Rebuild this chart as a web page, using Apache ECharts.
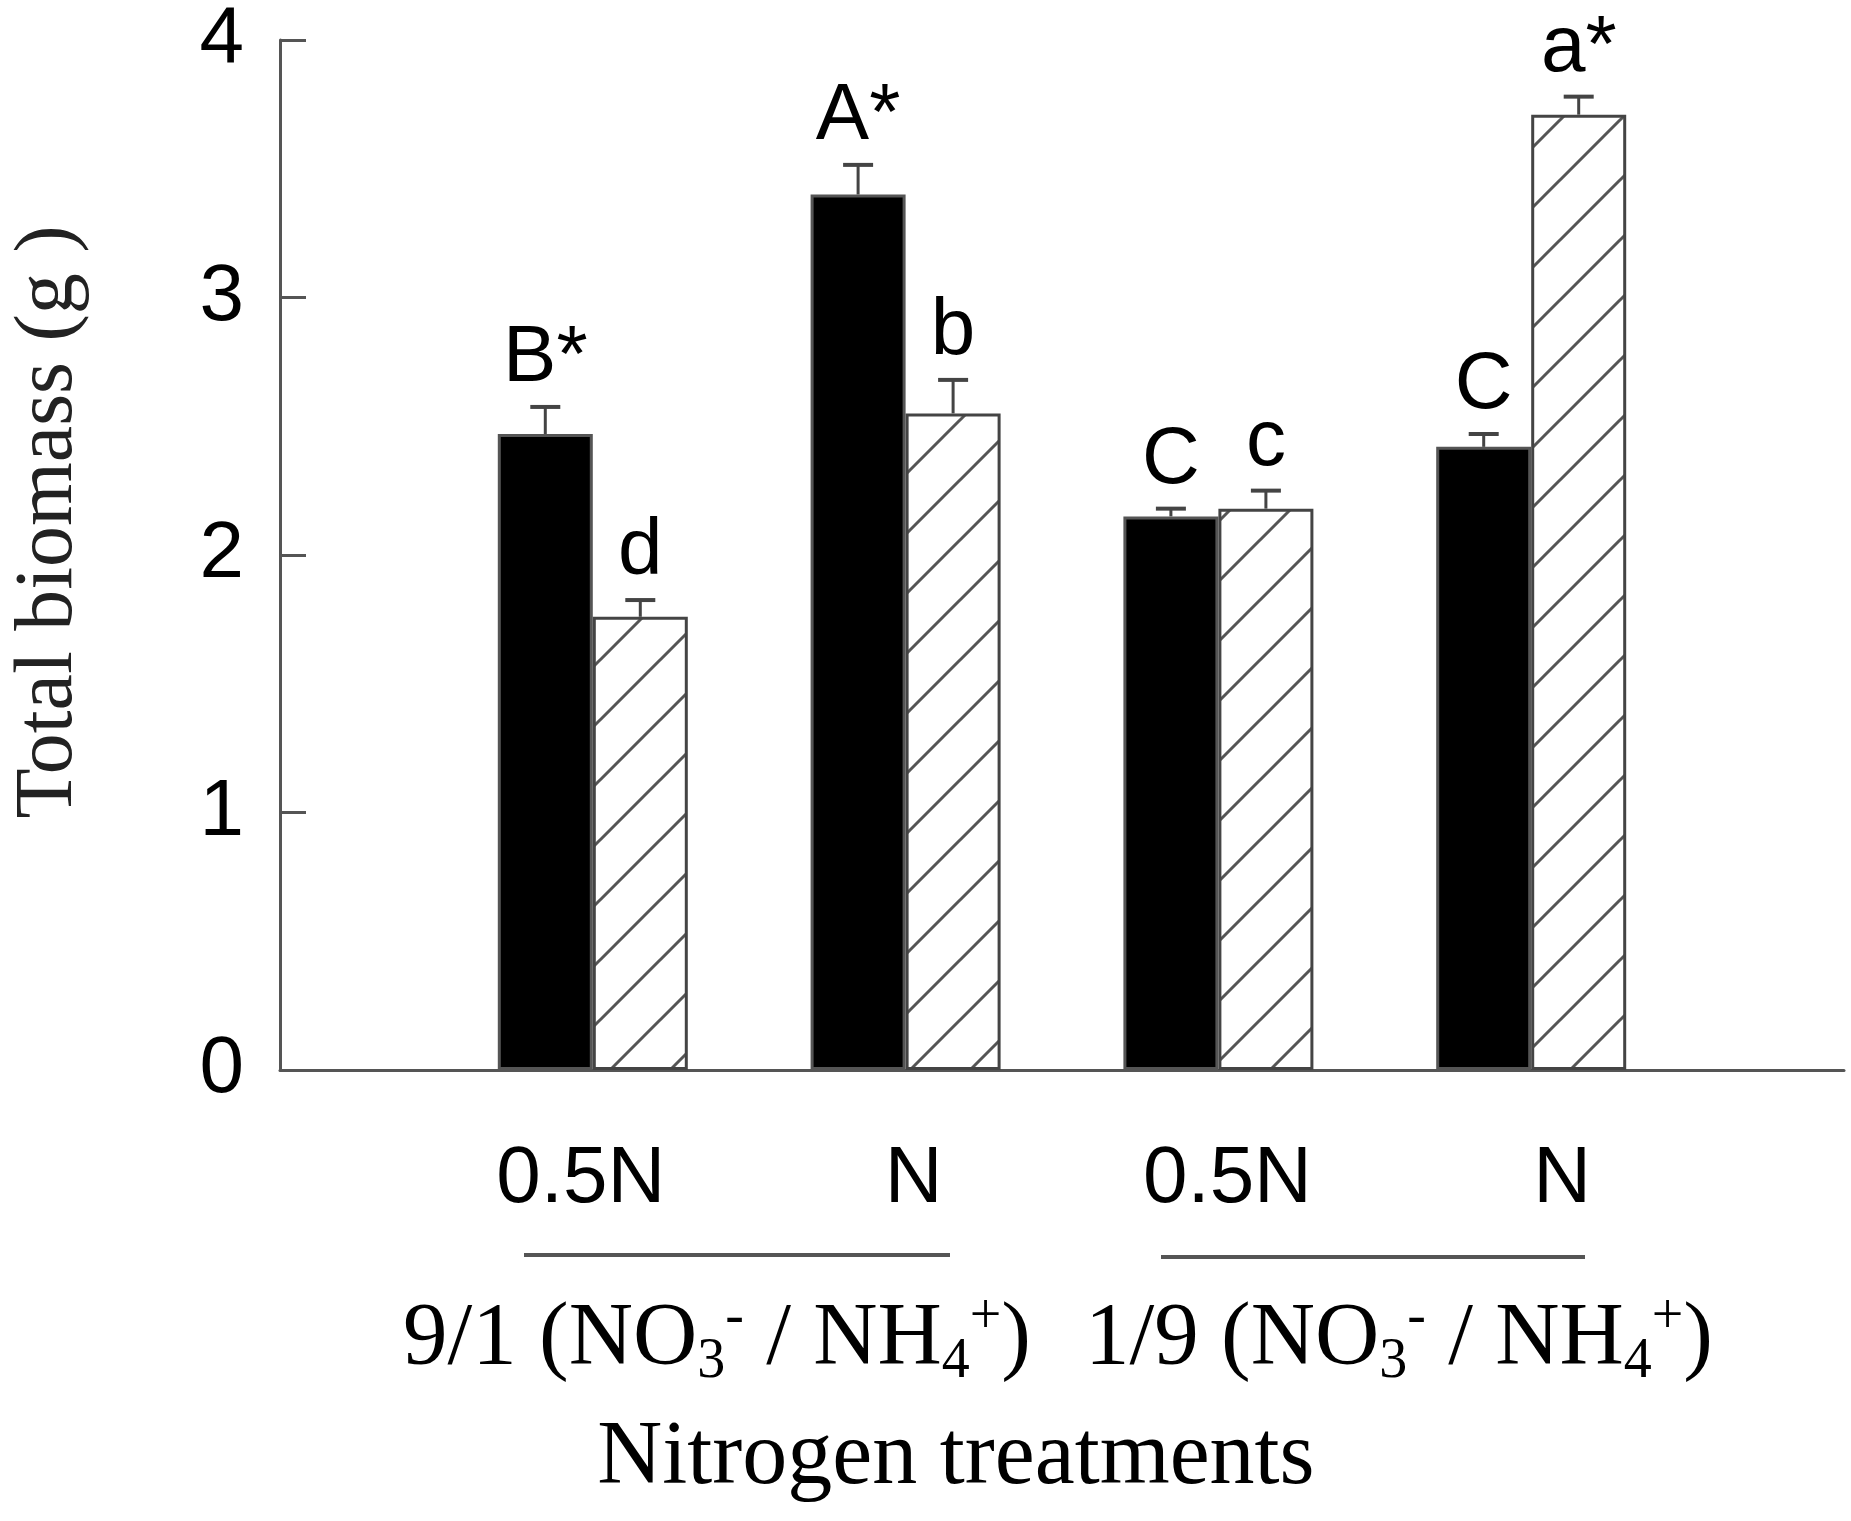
<!DOCTYPE html>
<html>
<head>
<meta charset="utf-8">
<script src="https://cdn.jsdelivr.net/npm/echarts@6/dist/echarts.min.js"></script>
<style>
html, body { margin: 0; padding: 0; background: #fff; }
#main { width: 1851px; height: 1521px; }
</style>
</head>
<body>
<div id="main"></div>
<script>
// categories on the x axis (empty ends leave half a band on each side)
var categories = ['', '0.5N', 'N', '0.5N', 'N', ''];

// solid black bars
var blackValues = [2.47, 3.40, 2.15, 2.42];
var blackErrors = [0.105, 0.115, 0.03, 0.05];
var blackLetters = ['B*', 'A*', 'C', 'C'];

// hatched bars
var hatchValues = [1.76, 2.55, 2.18, 3.71];
var hatchErrors = [0.065, 0.13, 0.07, 0.07];
var hatchLetters = ['d', 'b', 'c', 'a*'];

var groupRatios = ['9/1', '1/9'];

var sans = 'Liberation Sans, Arial, sans-serif';
var serif = 'Liberation Serif, Times New Roman, serif';
var BAR_W = 95;

var makeHatch = function () {
    var s = 60;
    var c = document.createElement('canvas');
    c.width = s; c.height = s;
    var g = c.getContext('2d');
    g.fillStyle = '#fff';
    g.fillRect(0, 0, s, s);
    g.strokeStyle = '#555';
    g.lineWidth = 3;
    g.beginPath();
    g.moveTo(0, s); g.lineTo(s, 0);
    g.moveTo(-6, 6); g.lineTo(6, -6);
    g.moveTo(s - 6, s + 6); g.lineTo(s + 6, s - 6);
    g.stroke();
    return c;
};

var barData = function (vals) {
    return vals.map(function (v, i) { return [i + 1, v]; });
};

var errData = function (vals, errs) {
    return vals.map(function (v, i) { return [i + 1, v, errs[i]]; });
};

var errRender = function (offset, letters) {
    return function (params, api) {
        var x = api.value(0), v = api.value(1), e = api.value(2);
        var base = api.coord([x, v]);
        var top = api.coord([x, v + e]);
        var cx = base[0] + offset;
        return {
            type: 'group',
            children: [
                { type: 'line', shape: { x1: cx, y1: base[1], x2: cx, y2: top[1] },
                  style: { stroke: '#444', lineWidth: 3 } },
                { type: 'line', shape: { x1: cx - 15, y1: top[1], x2: cx + 15, y2: top[1] },
                  style: { stroke: '#444', lineWidth: 4 } },
                { type: 'text', x: cx, y: top[1] - 8,
                  style: { text: letters[params.dataIndex], align: 'center', verticalAlign: 'bottom',
                           fontFamily: sans, fontSize: 80, fill: '#000' } }
            ]
        };
    };
};

var groupText = function (ratio) {
    return '{m|' + ratio + ' (NO}{sub|3}{sup|-}{m| / NH}{sub|4}{sup|+}{m|)}';
};

var groupRich = {
    m: { fontFamily: serif, fontSize: 89, lineHeight: 100, fill: '#000' },
    sub: { fontFamily: serif, fontSize: 56, lineHeight: 40, verticalAlign: 'bottom', fill: '#000' },
    sup: { fontFamily: serif, fontSize: 56, lineHeight: 56, verticalAlign: 'top', fill: '#000' }
};

var labelRich = {
    l1: { fontFamily: sans, fontSize: 80, color: '#000', padding: [0, 24, 0, 0] },
    l2: { fontFamily: sans, fontSize: 80, color: '#000', padding: [0, 0, 0, 16] },
    l3: { fontFamily: sans, fontSize: 80, color: '#000', padding: [0, 0, 0, 18] },
    l4: { fontFamily: sans, fontSize: 80, color: '#000', padding: [0, 0, 0, 62] }
};

var myChart = echarts.init(document.getElementById('main'));

myChart.setOption({
    animation: false,
    backgroundColor: '#fff',
    grid: { left: 277, right: 7, top: 38, bottom: 451 },
    xAxis: {
        type: 'category',
        data: categories,
        boundaryGap: false,
        axisLine: { lineStyle: { color: '#555', width: 3 } },
        axisTick: { show: false },
        splitLine: { show: false },
        axisLabel: {
            interval: 0,
            margin: 70,
            formatter: function (value, index) {
                if (!value) return '';
                return '{l' + index + '|' + value + '}';
            },
            rich: labelRich
        }
    },
    yAxis: {
        type: 'value',
        min: 0,
        max: 4,
        interval: 1,
        name: 'Total biomass (g )',
        nameLocation: 'middle',
        nameGap: 190,
        nameTextStyle: { fontFamily: serif, fontSize: 82, color: '#222', padding: [0, 0, 0, 66] },
        axisLine: { show: true, lineStyle: { color: '#555', width: 3 } },
        axisTick: { show: true, inside: true, length: 26, lineStyle: { color: '#555', width: 3 } },
        axisLabel: { margin: 36, fontFamily: sans, fontSize: 80, color: '#000' },
        splitLine: { show: false }
    },
    series: [
        {
            name: 'black',
            type: 'bar',
            data: barData(blackValues),
            barWidth: BAR_W,
            barGap: '0%',
            itemStyle: { color: '#000', borderColor: '#555', borderWidth: 3 }
        },
        {
            name: 'hatched',
            type: 'bar',
            data: barData(hatchValues),
            barWidth: BAR_W,
            barGap: '0%',
            itemStyle: { color: { image: makeHatch(), repeat: 'repeat' }, borderColor: '#444', borderWidth: 3 }
        },
        {
            type: 'custom',
            data: errData(blackValues, blackErrors),
            renderItem: errRender(-BAR_W / 2, blackLetters),
            z: 5
        },
        {
            type: 'custom',
            data: errData(hatchValues, hatchErrors),
            renderItem: errRender(BAR_W / 2, hatchLetters),
            z: 5
        }
    ],
    graphic: [
        { type: 'line', shape: { x1: 524, y1: 1255, x2: 950, y2: 1255 }, style: { stroke: '#555', lineWidth: 4 } },
        { type: 'line', shape: { x1: 1161, y1: 1257, x2: 1585, y2: 1257 }, style: { stroke: '#555', lineWidth: 4 } },
        { type: 'text', x: 717, y: 1290,
          style: { text: groupText(groupRatios[0]), rich: groupRich, align: 'center', verticalAlign: 'top' } },
        { type: 'text', x: 1399, y: 1290,
          style: { text: groupText(groupRatios[1]), rich: groupRich, align: 'center', verticalAlign: 'top' } },
        { type: 'text', x: 956, y: 1409,
          style: { text: 'Nitrogen treatments', fontFamily: serif, fontSize: 90, lineHeight: 100,
                   fill: '#000', align: 'center', verticalAlign: 'top' } }
    ]
});
</script>
</body>
</html>
